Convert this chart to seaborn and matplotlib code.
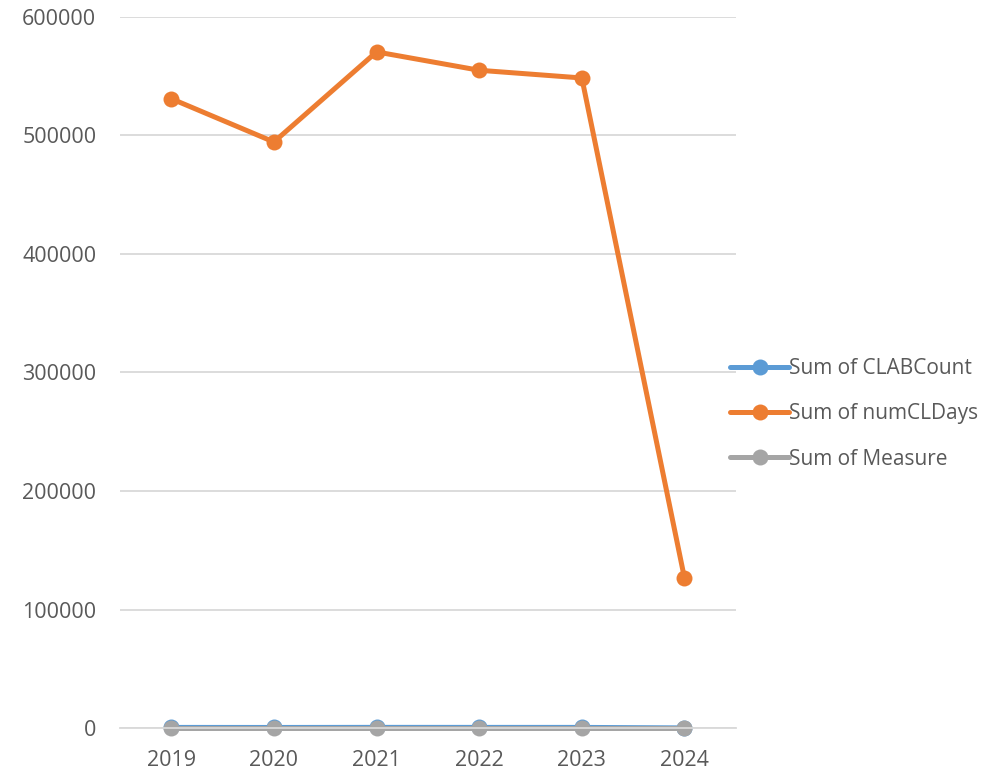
import matplotlib
matplotlib.use("Agg")
import matplotlib.pyplot as plt
import seaborn as sns
import pandas as pd

years = ["2019", "2020", "2021", "2022", "2023", "2024"]
clab_count = [520, 480, 560, 540, 530, 120]
num_cl_days = [531000, 494500, 570500, 555000, 548500, 126500]
measure = [0.98, 0.97, 0.98, 0.97, 0.97, 0.95]
series_names = ["Sum of CLABCount", "Sum of numCLDays", "Sum of Measure"]
colors = ["#5B9BD5", "#ED7D31", "#A5A5A5"]
y_ticks = [0, 100000, 200000, 300000, 400000, 500000, 600000]

rows = []
for name, vals in zip(series_names, [clab_count, num_cl_days, measure]):
    for y, v in zip(years, vals):
        rows.append({"Year": y, "Value": v, "Series": name})
df = pd.DataFrame(rows)

sns.set_theme(style="white")
plt.rcParams["font.family"] = ["Open Sans", "DejaVu Sans"]

fig = plt.figure(figsize=(10.03, 7.70), dpi=100)
ax = fig.add_axes([0.1196, 0.0545, 0.614, 0.9235])

sns.lineplot(data=df, x="Year", y="Value", hue="Series", hue_order=series_names,
             palette=colors, marker="o", markersize=11.5, markeredgewidth=0,
             linewidth=3.6, ax=ax, sort=False)
for ln in ax.lines:
    ln.set_clip_on(False)
    ln.set_solid_capstyle("round")

ax.set_xlim(-0.5, 5.5)
ax.set_ylim(0, 600000)
ax.set_yticks(y_ticks)
ax.set_yticklabels([str(t) for t in y_ticks])
ax.yaxis.grid(True, color="#D9D9D9", linewidth=1.3)
ax.set_axisbelow(True)
for s in ["top", "right", "left"]:
    ax.spines[s].set_visible(False)
ax.spines["bottom"].set_color("#D9D9D9")
ax.spines["bottom"].set_linewidth(1.3)
ax.set_xlabel("")
ax.set_ylabel("")
ax.tick_params(axis="both", labelsize=15.5, colors="#595959", length=0)
ax.tick_params(axis="y", pad=17)
ax.tick_params(axis="x", pad=16)

leg = ax.legend(loc="center left", bbox_to_anchor=(0.977, 0.442), frameon=False,
                fontsize=15, handlelength=2.85, handletextpad=0.0,
                labelspacing=1.17, borderaxespad=0)
for t in leg.get_texts():
    t.set_color("#595959")
for h in leg.legend_handles:
    h.set_linewidth(3.6)
    h.set_markersize(11.5)

fig.savefig("out.png", dpi=100)
